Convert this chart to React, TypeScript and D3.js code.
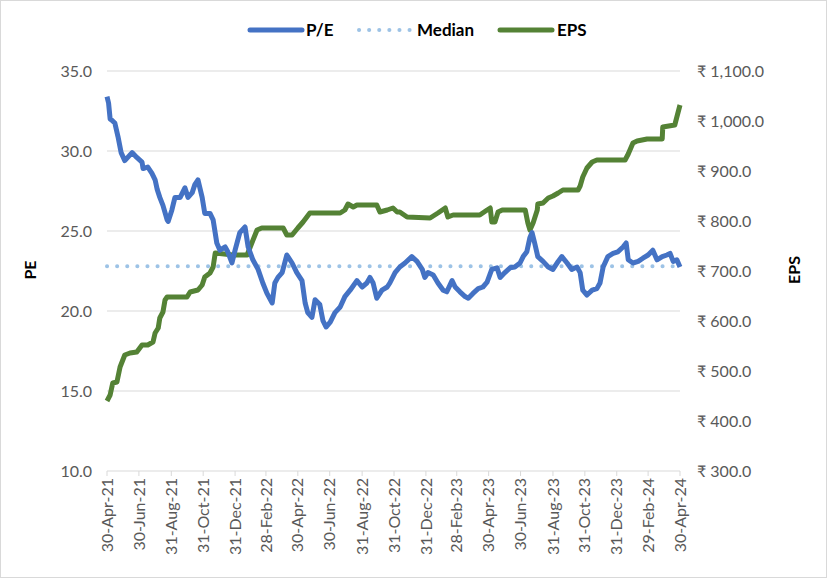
import * as d3 from "d3";
import React from "react";

// series are [days since 30-Apr-21, value]
const startDate = new Date(2021, 3, 30);

const peSeries: [number, number][] = [
  [0, 33.4], [3, 33.0], [6, 32.0], [10, 31.9], [15, 31.75], [21, 30.9], [27, 29.9],
  [34, 29.4], [48, 29.9], [57, 29.6], [67, 29.3], [69, 28.9], [78, 29.0], [86, 28.6],
  [92, 28.2], [96, 27.6], [101, 27.1], [107, 26.6], [115, 25.7], [117, 25.6], [124, 26.3],
  [130, 27.1], [140, 27.1], [149, 27.7], [155, 27.1], [163, 27.4], [168, 27.9], [174, 28.2],
  [182, 27.1], [187, 26.1], [197, 26.1], [203, 25.7], [210, 24.25], [216, 23.8], [226, 24.0],
  [231, 23.7], [239, 23.0], [245, 23.8], [254, 24.9], [264, 25.25], [270, 24.0], [279, 23.2],
  [289, 22.6], [298, 21.75], [306, 21.1], [316, 20.5], [321, 21.75], [327, 22.1], [335, 22.4],
  [344, 23.5], [354, 23.0], [363, 22.4], [373, 21.9], [379, 20.5], [384, 19.9], [392, 19.6],
  [398, 20.7], [407, 20.4], [413, 19.4], [419, 19.0], [427, 19.3], [436, 19.9], [446, 20.25],
  [455, 20.9], [465, 21.3], [478, 21.9], [488, 21.5], [497, 21.75], [503, 22.1], [509, 21.75],
  [516, 20.8], [526, 21.3], [536, 21.5], [541, 21.75], [551, 22.4], [560, 22.75], [570, 23.0],
  [583, 23.4], [593, 23.1], [603, 22.6], [608, 22.1], [614, 22.4], [624, 22.25], [633, 21.75],
  [643, 21.3], [650, 21.2], [660, 21.9], [666, 21.5], [675, 21.2], [685, 20.9], [691, 20.8],
  [700, 21.1], [710, 21.4], [719, 21.5], [727, 21.8], [736, 22.6], [746, 22.7], [752, 22.1],
  [761, 22.4], [771, 22.7], [780, 22.75], [790, 23.0], [796, 23.4], [803, 23.7], [809, 24.6],
  [813, 24.9], [818, 24.25], [824, 23.4], [834, 23.1], [844, 22.75], [853, 22.6], [863, 23.1],
  [870, 23.4], [880, 23.0], [889, 22.6], [899, 22.75], [905, 22.4], [910, 21.3], [918, 21.0],
  [928, 21.3], [937, 21.4], [943, 21.75], [949, 22.75], [958, 23.4], [968, 23.6], [977, 23.7],
  [987, 24.0], [993, 24.25], [997, 23.2], [1006, 23.0], [1016, 23.1], [1025, 23.3], [1035, 23.5],
  [1044, 23.8], [1052, 23.2], [1062, 23.4], [1071, 23.5], [1077, 23.6], [1083, 23.1], [1090, 23.2],
  [1096, 22.75],
];

const epsSeries: [number, number][] = [
  [0, 440], [6, 452], [11, 476], [19, 478], [25, 508], [34, 532], [44, 536], [57, 538],
  [67, 552], [78, 552], [88, 558], [92, 576], [98, 586], [101, 606], [107, 618], [111, 642],
  [115, 648], [153, 648], [159, 658], [174, 662], [182, 672], [187, 688], [197, 696], [203, 708],
  [207, 736], [241, 732], [268, 732], [274, 748], [287, 782], [296, 786], [337, 786], [344, 772],
  [354, 772], [365, 786], [375, 798], [388, 816], [446, 816], [455, 822], [461, 834], [471, 828],
  [478, 832], [516, 832], [522, 818], [536, 822], [547, 826], [555, 818], [560, 818], [574, 808],
  [618, 806], [633, 816], [647, 826], [652, 808], [662, 812], [713, 812], [727, 822], [733, 826],
  [736, 798], [742, 798], [748, 818], [756, 822], [800, 822], [805, 796], [809, 782], [815, 796],
  [823, 822], [824, 834], [834, 836], [844, 846], [853, 850], [863, 856], [872, 862], [901, 862],
  [905, 870], [910, 888], [918, 906], [928, 918], [937, 922], [991, 922], [997, 934], [1006, 956],
  [1014, 960], [1033, 964], [1062, 964], [1063, 988], [1086, 992], [1090, 1008], [1096, 1032],
];

const medianPE = 22.8;

const xTickLabels = [
  "30-Apr-21", "30-Jun-21", "31-Aug-21", "31-Oct-21", "31-Dec-21", "28-Feb-22",
  "30-Apr-22", "30-Jun-22", "31-Aug-22", "31-Oct-22", "31-Dec-22", "28-Feb-23",
  "30-Apr-23", "30-Jun-23", "31-Aug-23", "31-Oct-23", "31-Dec-23", "29-Feb-24", "30-Apr-24",
];
const peTicks = [10, 15, 20, 25, 30, 35];
const epsTicks = [300, 400, 500, 600, 700, 800, 900, 1000, 1100];

const W = 827;
const H = 578;
const left = 107;
const right = 680;
const top = 71;
const bottom = 471;
const font = "Lato, 'Noto Sans', 'DejaVu Sans', sans-serif";

const parseLabel = d3.timeParse("%d-%b-%y");

export default function App() {
  const toDate = (d: number) => d3.timeDay.offset(startDate, d);
  const x = d3
    .scaleTime()
    .domain([startDate, toDate(1096)])
    .range([left, right]);
  const yPE = d3.scaleLinear().domain([10, 35]).range([bottom, top]);
  const yEPS = d3.scaleLinear().domain([300, 1100]).range([bottom, top]);

  const peLine = d3
    .line<[number, number]>()
    .x((d) => x(toDate(d[0])))
    .y((d) => yPE(d[1]));
  const epsLine = d3
    .line<[number, number]>()
    .x((d) => x(toDate(d[0])))
    .y((d) => yEPS(d[1]));

  const fmtPE = d3.format(".1f");
  const fmtEPS = d3.format(",.1f");

  return (
    <svg
      width={W}
      height={H}
      style={{ position: "absolute", left: 0, top: 0, background: "#fff" }}
      fontFamily={font}
    >
      <rect x={0.5} y={0.5} width={W - 1} height={H - 1} fill="#fff" stroke="#d9d9d9" />

      {peTicks.map((t) => (
        <g key={t}>
          {t !== 10 && (
            <line x1={left} x2={right} y1={yPE(t)} y2={yPE(t)} stroke="#d9d9d9" strokeWidth={1} />
          )}
          <text x={92} y={yPE(t)} dy="0.35em" textAnchor="end" fontSize={16} fill="#595959">
            {fmtPE(t)}
          </text>
        </g>
      ))}

      {epsTicks.map((t) => (
        <text key={t} x={697} y={yEPS(t)} dy="0.35em" fontSize={16} fill="#595959">
          {"₹ " + fmtEPS(t)}
        </text>
      ))}

      {/* x axis */}
      <line x1={left} x2={right} y1={bottom} y2={bottom} stroke="#d9d9d9" strokeWidth={1} />
      {xTickLabels.map((lab) => {
        const px = x(parseLabel(lab) as Date);
        return (
          <g key={lab}>
            <line x1={px} x2={px} y1={bottom} y2={bottom + 5} stroke="#d9d9d9" />
            <text
              transform={`translate(${px},${bottom + 7}) rotate(-90)`}
              dy="0.35em"
              textAnchor="end"
              fontSize={16}
              fill="#595959"
            >
              {lab}
            </text>
          </g>
        );
      })}

      <line
        x1={left}
        x2={right}
        y1={yPE(medianPE)}
        y2={yPE(medianPE)}
        stroke="#9dc3e6"
        strokeWidth={4}
        strokeLinecap="round"
        strokeDasharray="0.1 10"
      />
      <path d={epsLine(epsSeries) ?? ""} fill="none" stroke="#548235" strokeWidth={5} strokeLinejoin="round" />
      <path d={peLine(peSeries) ?? ""} fill="none" stroke="#4472c4" strokeWidth={5} strokeLinejoin="round" />

      {/* axis titles */}
      <text transform="translate(36,270) rotate(-90)" textAnchor="middle" fontSize={16} fontWeight="bold" fill="#000">
        PE
      </text>
      <text transform="translate(794,270) rotate(-90)" textAnchor="middle" dy="0.35em" fontSize={16} fontWeight="bold" fill="#000">
        EPS
      </text>

      {/* legend */}
      <g fontSize={17} fontWeight="bold" fill="#000">
        <line x1={250} x2={302} y1={30} y2={30} stroke="#4472c4" strokeWidth={5} strokeLinecap="round" />
        <text x={306} y={30} dy="0.35em">P/E</text>
        <line x1={359} x2={410} y1={30} y2={30} stroke="#9dc3e6" strokeWidth={4} strokeLinecap="round" strokeDasharray="0.1 10" />
        <text x={417} y={30} dy="0.35em">Median</text>
        <line x1={500} x2={552} y1={30} y2={30} stroke="#548235" strokeWidth={5} strokeLinecap="round" />
        <text x={557} y={30} dy="0.35em">EPS</text>
      </g>
    </svg>
  );
}
